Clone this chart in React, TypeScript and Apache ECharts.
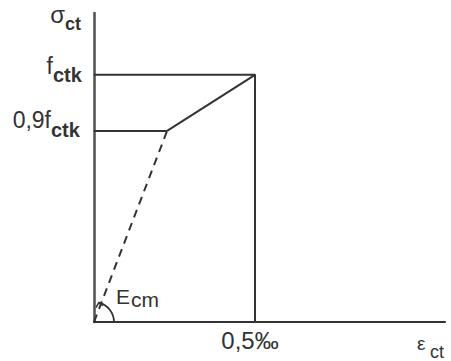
import React, { useEffect, useRef } from "react";
import * as echarts from "echarts";

// Values (strain in ‰, stress in units of f_ctk)
const xRange = [0, 1.09];
const yRange = [0, 1.25];
const peakStrain = 0.5;
const kneeStrain = 0.227;
const peakStress = 1.0;
const kneeStress = 0.773;

const yAxisTitle = ["σ", "ct"];
const xAxisTitle = ["ε", "ct"];
const peakLabel = ["f", "ctk"];
const kneeLabel = ["0,9f", "ctk"];
const modulusLabel = ["E", "cm"];
const strainTick = "0,5‰";

const FONT = "Liberation Sans, Arial, sans-serif";
const INK = "#333";

export default function App() {
  const ref = useRef<HTMLDivElement>(null);
  useEffect(() => {
    document.body.style.margin = "0";
    const chart = echarts.init(ref.current!, undefined, { renderer: "svg" });
    const lineStyle = { color: INK, width: 2 };
    const base = (name: string, data: number[][], dashed = false) => ({
      type: "line",
      name,
      data,
      symbol: "none",
      silent: true,
      lineStyle: dashed ? { ...lineStyle, type: [8, 6] } : lineStyle,
    });
    chart.setOption({
      animation: false,
      grid: { left: 94, top: 13, right: 6, bottom: 39 },
      xAxis: {
        type: "value",
        min: xRange[0],
        max: xRange[1],
        axisLine: { show: true, onZero: false, lineStyle: { color: "#333", width: 2.2 } },
        axisTick: { show: false },
        axisLabel: { show: false },
        splitLine: { show: false },
      },
      yAxis: {
        type: "value",
        min: yRange[0],
        max: yRange[1],
        axisLine: { show: true, onZero: false, lineStyle: { color: "#555", width: 2.6 } },
        axisTick: { show: false },
        axisLabel: { show: false },
        splitLine: { show: false },
      },
      series: [
        base("envelope", [[xRange[0], peakStress], [peakStrain, peakStress], [peakStrain, yRange[0]]]),
        base("kneeLevel", [[xRange[0], kneeStress], [kneeStrain, kneeStress]]),
        base("hardening", [[kneeStrain, kneeStress], [peakStrain, peakStress]]),
        base("elastic", [[xRange[0], yRange[0]], [kneeStrain, kneeStress]], true),
      ],
    });

    const px = (x: number, y: number) => chart.convertToPixel({ gridIndex: 0 }, [x, y]) as number[];
    const o = px(xRange[0], yRange[0]);
    const top = px(xRange[0], yRange[1]);
    const pk = px(peakStrain, peakStress);
    const kn = px(kneeStrain, kneeStress);
    const right = px(xRange[1], yRange[0]);

    const txt = (text: string, x: number, baseline: number, size: number, bold: boolean, align: string) => ({
      type: "text",
      silent: true,
      style: {
        text,
        x,
        y: baseline - 0.35 * size,
        font: `${bold ? "bold " : ""}${size}px ${FONT}`,
        fill: INK,
        align,
        verticalAlign: "middle",
      },
    });

    const angle = Math.atan2(o[1] - kn[1], kn[0] - o[0]);
    const a0 = angle + 0.12;
    const r = 20;
    const ex = o[0] + r * Math.cos(a0);
    const ey = o[1] - r * Math.sin(a0);
    chart.setOption({
      graphic: [
        txt(yAxisTitle[0], top[0] - 29, top[1] + 10, 24, false, "right"),
        txt(yAxisTitle[1], top[0] - 29, top[1] + 17, 18, true, "left"),
        txt(peakLabel[0], top[0] - 41, pk[1] - 1, 23, false, "right"),
        txt(peakLabel[1], top[0] - 41, pk[1] + 7, 20, true, "left"),
        txt(kneeLabel[0], top[0] - 43, kn[1] - 3, 23, false, "right"),
        txt(kneeLabel[1], top[0] - 43, kn[1] + 6, 20, true, "left"),
        txt(modulusLabel[0], o[0] + 22, o[1] - 18, 21, false, "left"),
        txt(modulusLabel[1], o[0] + 37, o[1] - 15, 21, false, "left"),
        txt(strainTick, pk[0] - 5, o[1] + 27, 24, false, "center"),
        txt(xAxisTitle[0], right[0] - 28, o[1] + 28, 19, false, "left"),
        txt(xAxisTitle[1], right[0] - 15, o[1] + 36, 18, false, "left"),
        {
          type: "arc",
          silent: true,
          shape: { cx: o[0], cy: o[1], r, startAngle: -a0, endAngle: 0, clockwise: true },
          style: { stroke: INK, lineWidth: 1.8, fill: "none" },
        },
        {
          type: "polyline",
          silent: true,
          shape: { points: [[ex - 3, ey + 5], [ex, ey], [ex + 4, ey + 3]] },
          style: { stroke: INK, lineWidth: 1.6, fill: "none" },
        },
      ],
    });
    return () => chart.dispose();
  }, []);
  return <div ref={ref} style={{ width: 451, height: 361, background: "#fff" }} />;
}
